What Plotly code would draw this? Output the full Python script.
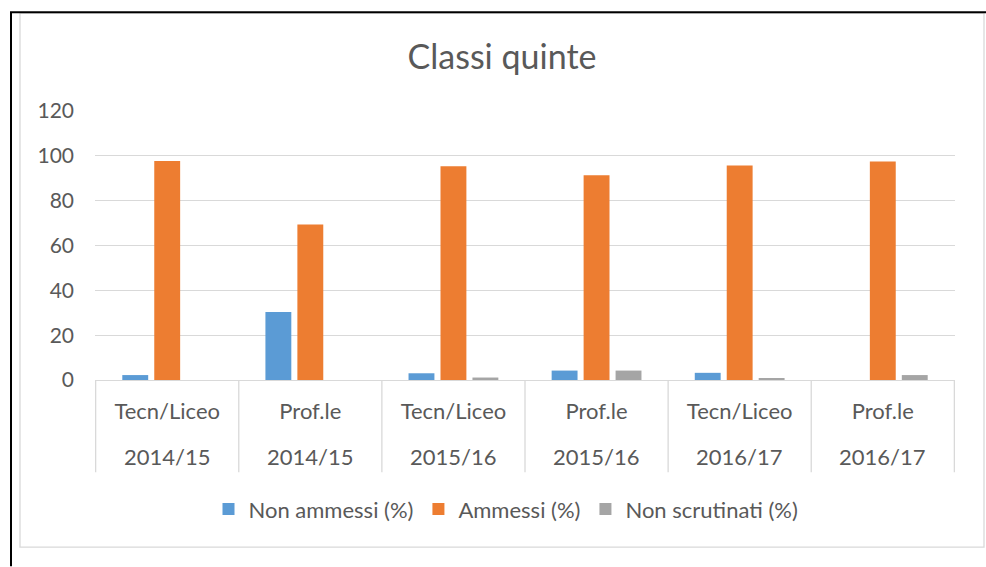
import plotly.graph_objects as go

types = ["Tecn/Liceo", "Prof.le", "Tecn/Liceo", "Prof.le", "Tecn/Liceo", "Prof.le"]
years = ["2014/15", "2014/15", "2015/16", "2015/16", "2016/17", "2016/17"]
non_ammessi = [2.2, 30.3, 3.0, 4.2, 3.2, 0.0]
ammessi = [97.7, 69.4, 95.3, 91.3, 95.7, 97.5]
non_scrutinati = [0.0, 0.0, 1.1, 4.2, 0.7, 2.2]
series_names = ["Non ammessi (%)", "Ammessi (%)", "Non scrutinati (%)"]
y_ticks = [0, 20, 40, 60, 80, 100, 120]

cats = [f"{t} {y}" for t, y in zip(types, years)]

FONT = "Lato"
TXT = "#595959"
colors = ["#5B9BD5", "#ED7D31", "#A5A5A5"]

fig = go.Figure()
for name, vals, col in zip(series_names, [non_ammessi, ammessi, non_scrutinati], colors):
    fig.add_trace(go.Bar(x=cats, y=vals, name=name, marker=dict(color=col, line=dict(width=0))))

# plot area: x 95..955, y 111..380.5
L, R, T, B = 95, 31, 111, 186.5
W, H = 986 - L - R, 567 - T - B

def px(x):
    return (x - L) / W

def py(y):
    return (567 - B - y) / H

shapes = []
for i in range(len(cats) + 1):
    shapes.append(dict(type="line", xref="x", yref="paper", x0=i - 0.5, x1=i - 0.5,
                       y0=0, y1=py(473), line=dict(color="#D9D9D9", width=1.3)))
shapes.append(dict(type="rect", xref="paper", yref="paper", x0=px(20), x1=px(984),
                   y0=py(548), y1=py(13), line=dict(color="#D9D9D9", width=1.3), layer="below"))
shapes.append(dict(type="line", xref="paper", yref="paper", x0=px(11), x1=px(11),
                   y0=py(12), y1=py(567), line=dict(color="black", width=2)))
shapes.append(dict(type="line", xref="paper", yref="paper", x0=px(10), x1=px(986),
                   y0=py(12), y1=py(12), line=dict(color="black", width=2)))

annotations = [dict(x=c, y=py(457), xref="x", yref="paper", text=yr, showarrow=False,
                    xanchor="center", yanchor="middle", font=dict(size=22, color=TXT))
               for c, yr in zip(cats, years)]

fig.update_layout(
    width=986, height=567,
    margin=dict(l=L, r=R, t=T, b=B),
    paper_bgcolor="white", plot_bgcolor="white",
    font=dict(family=FONT, color=TXT, size=21),
    title=dict(text="Classi quinte", x=502 / 986, xanchor="center", y=(567 - 57) / 567,
               yanchor="middle", font=dict(size=34, color=TXT, family=FONT)),
    barmode="group", bargap=0.33, bargroupgap=0.19,
    showlegend=True,
    legend=dict(orientation="h", x=px(506), xanchor="center", y=py(510), yanchor="middle",
                font=dict(size=22, color=TXT), itemwidth=30, traceorder="normal"),
    shapes=shapes,
    annotations=annotations,
)
fig.update_yaxes(range=[0, 120], tickvals=y_ticks, showgrid=True, gridcolor="#D9D9D9", gridwidth=1.3,
                 zeroline=False, showline=False, ticks="", ticklabelstandoff=20,
                 tickfont=dict(size=21, color=TXT))
fig.update_xaxes(type="category", tickvals=cats, ticktext=types, showline=True,
                 linecolor="#D9D9D9", linewidth=1.3, ticks="", showgrid=False,
                 tickfont=dict(size=22, color=TXT), ticklabelstandoff=11)

fig.write_html("out.html", config={"displayModeBar": False},
               post_script="document.body.style.margin='0';")
